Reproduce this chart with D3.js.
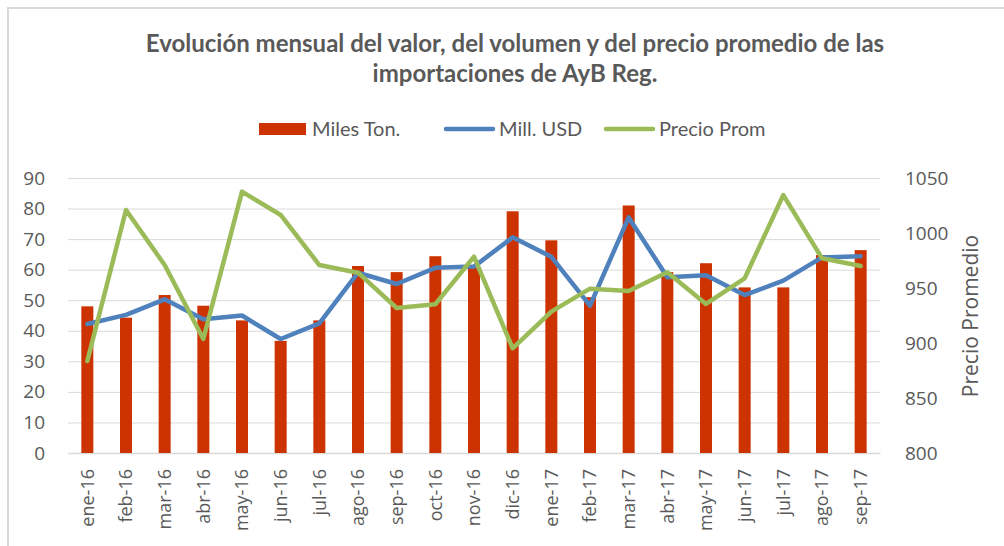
<!DOCTYPE html>
<html>
<head>
<meta charset="utf-8">
<script src="https://cdn.jsdelivr.net/npm/d3@7"></script>
<style>
	html, body { margin: 0; padding: 0; background: #fff; }
	text { font-family: Lato, "Open Sans", sans-serif; fill: #595959; }
</style>
</head>
<body>
<div id="chart"></div>
<script>
const months = ["ene-16", "feb-16", "mar-16", "abr-16", "may-16", "jun-16", "jul-16", "ago-16", "sep-16", "oct-16", "nov-16", "dic-16",
	"ene-17", "feb-17", "mar-17", "abr-17", "may-17", "jun-17", "jul-17", "ago-17", "sep-17"];
const milesTon = [48, 44.3, 51.7, 48.2, 43.4, 36.7, 43.4, 61.2, 59.2, 64.4, 61.5, 79.1, 69.6, 51, 81, 59.2, 62.1, 54.2, 54.2, 64.8, 66.4];
const millUSD = [42.2, 45.2, 50.3, 43.8, 45, 37.3, 42.4, 59, 55.3, 60.6, 61, 70.6, 64.2, 48.2, 77.1, 57.5, 58.2, 51.7, 56.4, 64, 64.4];
const precioProm = [883.6, 1020.9, 970.9, 903.6, 1037.6, 1016.4, 970.9, 963.9, 931.8, 935.2, 978.5, 895.2, 928.5, 949.4, 947.3, 964.3, 935.5, 958.8, 1034.5, 977, 970];
const leftTicks = [0, 10, 20, 30, 40, 50, 60, 70, 80, 90];
const rightTicks = [800, 850, 900, 950, 1000, 1050];
const seriesNames = ["Miles Ton.", "Mill. USD", "Precio Prom"];
const titleLines = ["Evolución mensual del valor, del volumen y del precio promedio de las", "importaciones de AyB Reg."];

const W = 1004, H = 546;
const M = { L: 68, R: 124, T: 178, B: 93 };
const COLORS = { bar: "#cc3300", usd: "#4f81bd", precio: "#9bbb59", grid: "#d9d9d9" };
const TICK_FONT = "'Open Sans', sans-serif";

const svg = d3.select("#chart").append("svg")
	.attr("width", W)
	.attr("height", H);

// outer frame (only top and left edges show in the picture)
svg.append("path")
	.attr("d", "M8," + H + " V8 H" + W)
	.attr("fill", "none")
	.attr("stroke", COLORS.grid)
	.attr("stroke-width", 2);

const innerW = W - M.L - M.R;
const innerH = H - M.T - M.B;

const x = d3.scaleBand().domain(months).range([0, innerW]);
const yL = d3.scaleLinear().domain([0, 90]).range([innerH, 0]);
const yR = d3.scaleLinear().domain([800, 1050]).range([innerH, 0]);

const g = svg.append("g").attr("transform", "translate(" + M.L + "," + M.T + ")");

// gridlines
g.append("g")
	.call(d3.axisLeft(yL).tickValues(leftTicks).tickSize(-innerW).tickFormat(""))
	.call(a => a.select(".domain").remove())
	.call(a => a.selectAll("line").attr("stroke", COLORS.grid));

// left axis labels
g.append("g")
	.attr("transform", "translate(-20,0)")
	.call(d3.axisLeft(yL).tickValues(leftTicks).tickSize(0))
	.call(a => a.select(".domain").remove())
	.call(a => a.selectAll("text").attr("fill", "#595959").style("font-size", "19px").style("font-family", TICK_FONT));

// right axis labels
g.append("g")
	.attr("transform", "translate(" + (innerW + 22) + ",0)")
	.call(d3.axisRight(yR).tickValues(rightTicks).tickSize(0).tickFormat(d3.format("d")))
	.call(a => a.select(".domain").remove())
	.call(a => a.selectAll("text").attr("fill", "#595959").style("font-size", "19px").style("font-family", TICK_FONT));

// bottom axis
g.append("g")
	.attr("transform", "translate(0," + innerH + ")")
	.call(d3.axisBottom(x).tickSize(0).tickPadding(0))
	.call(a => a.select(".domain").attr("stroke", COLORS.grid).attr("stroke-width", 1.5))
	.call(a => a.selectAll("text")
		.attr("fill", "#595959")
		.style("font-size", "18px")
		.style("font-family", TICK_FONT)
		.attr("text-anchor", "end")
		.attr("transform", "translate(0,16) rotate(-90)")
		.attr("x", 0).attr("y", 0).attr("dy", "0.35em"));

// bars
const barW = 12;
g.selectAll(".bar")
	.data(milesTon)
	.enter().append("rect")
	.attr("class", "bar")
	.attr("x", (d, i) => x(months[i]) + x.bandwidth() / 2 - barW / 2)
	.attr("y", d => yL(d))
	.attr("width", barW)
	.attr("height", d => innerH - yL(d))
	.attr("fill", COLORS.bar);

const cx = i => x(months[i]) + x.bandwidth() / 2;

g.append("path")
	.datum(millUSD)
	.attr("fill", "none")
	.attr("stroke", COLORS.usd)
	.attr("stroke-width", 4.5)
	.attr("stroke-linejoin", "round")
	.attr("stroke-linecap", "round")
	.attr("d", d3.line().x((d, i) => cx(i)).y(d => yL(d)));

g.append("path")
	.datum(precioProm)
	.attr("fill", "none")
	.attr("stroke", COLORS.precio)
	.attr("stroke-width", 4.5)
	.attr("stroke-linejoin", "round")
	.attr("stroke-linecap", "round")
	.attr("d", d3.line().x((d, i) => cx(i)).y(d => yR(d)));

// right axis title
svg.append("text")
	.attr("transform", "translate(971,316) rotate(-90)")
	.attr("text-anchor", "middle")
	.attr("dy", "0.35em")
	.style("font-size", "21px")
	.style("font-family", TICK_FONT)
	.text("Precio Promedio");

// title
svg.selectAll(".title")
	.data(titleLines)
	.enter().append("text")
	.attr("class", "title")
	.attr("x", 515)
	.attr("y", (d, i) => 52 + i * 30)
	.attr("text-anchor", "middle")
	.style("font-size", "24px")
	.style("font-weight", "bold")
	.text(d => d);

// legend
const legend = svg.append("g").attr("transform", "translate(259,129)");
const legendX = [0, 187, 347];
const lg = legend.selectAll(".lg")
	.data(seriesNames)
	.enter().append("g")
	.attr("transform", (d, i) => "translate(" + legendX[i] + ",0)");
lg.each(function(d, i) {
	const s = d3.select(this);
	if (i === 0) {
		s.append("rect").attr("x", 0).attr("y", -6).attr("width", 47).attr("height", 12).attr("fill", COLORS.bar);
	} else {
		s.append("line").attr("x1", 0).attr("x2", 47).attr("y1", 0).attr("y2", 0)
			.attr("stroke", i === 1 ? COLORS.usd : COLORS.precio).attr("stroke-width", 4.5)
			.attr("stroke-linecap", "round");
	}
	s.append("text").attr("x", 53).attr("y", 0).attr("dy", "0.35em")
		.style("font-size", "20px").text(d);
});
</script>
</body>
</html>
